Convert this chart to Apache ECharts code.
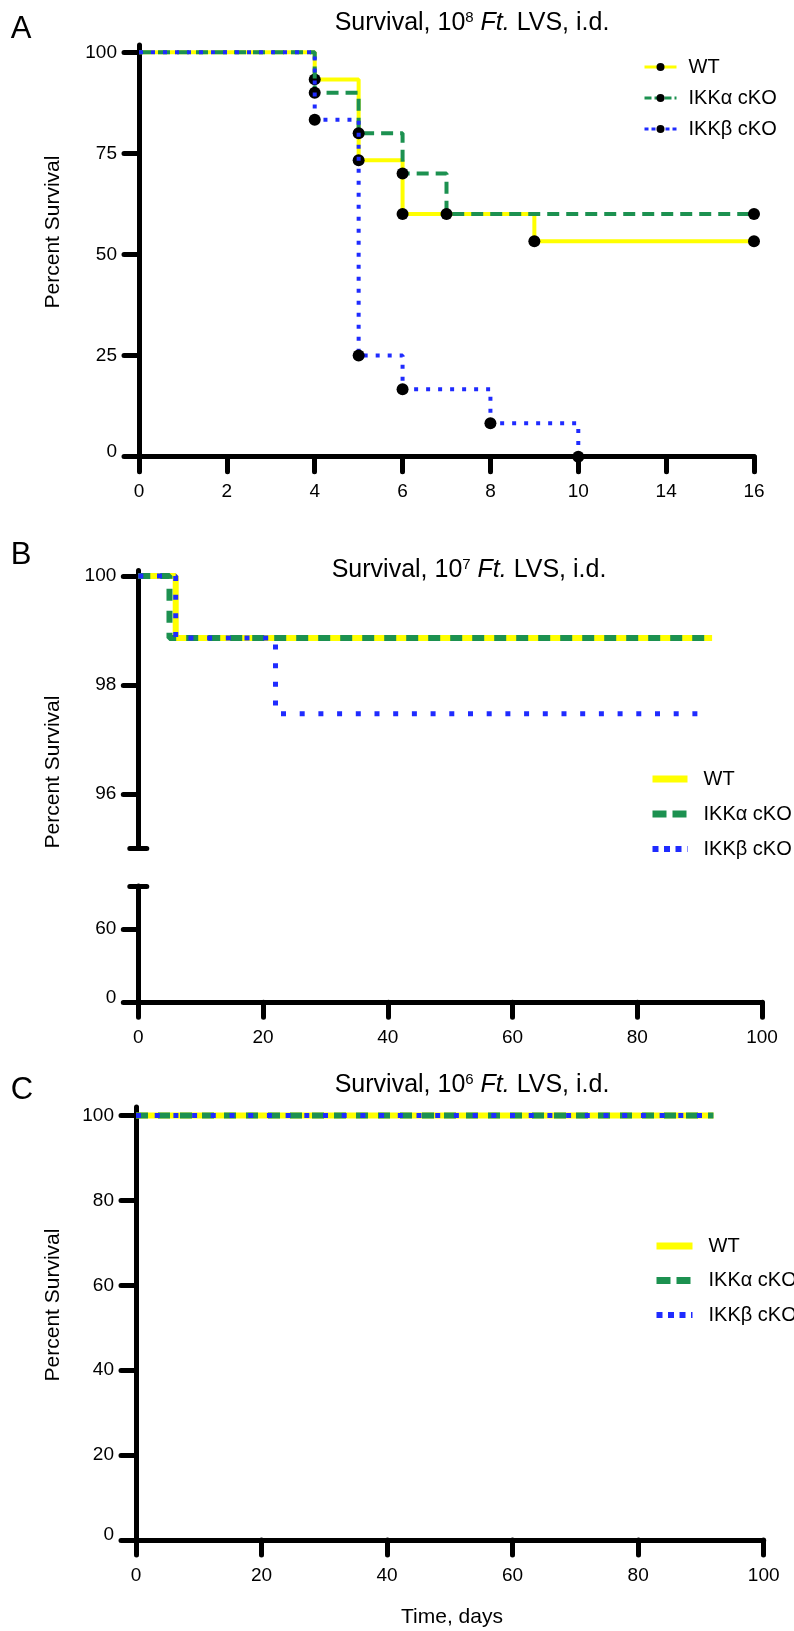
<!DOCTYPE html>
<html><head><meta charset="utf-8">
<script src="https://cdn.jsdelivr.net/npm/echarts@6/dist/echarts.min.js"></script>
<style>html,body{margin:0;padding:0;background:#fff}#c{width:794px;height:1631px}</style>
</head><body><div id="c"></div>
<script>
// ---------- Panel A: 10^8 Ft. LVS ----------
const A_TICK_DAYS   = [0, 2, 4, 6, 8, 10, 14, 16];
const A_TICK_LABELS = ['0', '2', '4', '6', '8', '10', '14', '16'];
const A_Y_TICKS     = [0, 25, 50, 75, 100];
const A_WT_DAYS  = [0, 4, 5, 6, 9, 16];
const A_WT_SURV  = [100, 93.3, 73.3, 60, 53.3, 53.3];
const A_IKKA_DAYS = [0, 4, 5, 6, 7, 16];
const A_IKKA_SURV = [100, 90, 80, 70, 60, 60];
const A_IKKB_DAYS = [0, 4, 5, 6, 8, 10];
const A_IKKB_SURV = [100, 83.3, 25, 16.7, 8.3, 0];
// ---------- Panel B: 10^7 Ft. LVS ----------
const B_X_TICKS = [0, 20, 40, 60, 80, 100];
const B_Y_TICKS_UPPER = [96, 98, 100];
const B_Y_TICKS_LOWER = [0, 60];
const B_WT_DAYS  = [0, 6, 92];
const B_WT_SURV  = [100, 98.86, 98.86];
const B_IKKA_DAYS = [0, 5, 92];
const B_IKKA_SURV = [100, 98.86, 98.86];
const B_IKKB_DAYS = [0, 6, 22, 91];
const B_IKKB_SURV = [100, 98.86, 97.47, 97.47];
// ---------- Panel C: 10^6 Ft. LVS ----------
const C_X_TICKS = [0, 20, 40, 60, 80, 100];
const C_Y_TICKS = [0, 20, 40, 60, 80, 100];
const C_WT_DAYS  = [0, 92];
const C_WT_SURV  = [100, 100];
const C_IKKA_DAYS = [0, 92];
const C_IKKA_SURV = [100, 100];
const C_IKKB_DAYS = [0, 92];
const C_IKKB_SURV = [100, 100];

const FONT = 'Liberation Sans, Arial, Helvetica, sans-serif';
const YELLOW = '#ffff00', GREEN = '#1c9150', BLUE = '#1f2bff';

// broken x-axis of panel A: ticks evenly spaced although labels jump 10 -> 14
function aPos(d) {
  for (let i = 1; i < A_TICK_DAYS.length; i++) {
    if (d <= A_TICK_DAYS[i]) {
      const d0 = A_TICK_DAYS[i - 1], d1 = A_TICK_DAYS[i];
      return 2 * (i - 1) + 2 * (d - d0) / (d1 - d0);
    }
  }
  return 2 * (A_TICK_DAYS.length - 1);
}

const axLine = {show: true, onZero: false, lineStyle: {color: '#000', width: 5, cap: 'round'}};
const axTick = (len) => ({show: true, length: len, lineStyle: {color: '#000', width: 5, cap: 'round'}});
const zeroRich = {z: {fontSize: 19, fontFamily: FONT, color: '#000', padding: [0, 0, 10, 0]}};
const yLab = (vals) => ({show: true, customValues: vals, margin: 22, fontSize: 19, fontFamily: FONT, color: '#000',
  formatter: v => (v === 0 ? '{z|0}' : String(v)), rich: zeroRich});
const xLab = (fmt) => ({show: true, margin: 26, fontSize: 19, fontFamily: FONT, color: '#000', formatter: fmt});

function kmA(name, days, surv, color, type, z) {
  return {
    type: 'line', name, xAxisIndex: 0, yAxisIndex: 0, step: 'end', clip: false, z,
    data: days.map((d, i) => ({value: [aPos(d), surv[i]], symbol: i === 0 ? 'none' : 'circle'})),
    symbol: 'circle', symbolSize: 12, showSymbol: true, showAllSymbol: true,
    itemStyle: {color: '#000'}, lineStyle: {color, type, width: 4},
    emphasis: {disabled: true}
  };
}
function km(name, xi, yi, days, surv, color, type, width, z) {
  return {
    type: 'line', name, xAxisIndex: xi, yAxisIndex: yi, step: 'end', clip: false, z,
    data: days.map((d, i) => [d, surv[i]]), symbol: 'none',
    itemStyle: {color: 'rgba(0,0,0,0)', opacity: 0},
    lineStyle: {color, type, width}, emphasis: {disabled: true}
  };
}

const legendText = {fontSize: 20, fontFamily: FONT, color: '#000', padding: [0, 0, 0, 7]};
const legendTextW = {fontSize: 20, fontFamily: FONT, color: '#000', padding: [0, 0, 0, 11]};
const noSym = {color: 'rgba(0,0,0,0)', borderWidth: 0, opacity: 0};

const title = (x, y, sup) => ({
  type: 'text', x, y,
  style: {
    text: '{n|Survival, 10}{s|' + sup + '}{i| Ft.}{n| LVS, i.d.}',
    align: 'center', verticalAlign: 'middle', fill: '#000',
    rich: {
      n: {fontSize: 25, fontFamily: FONT, fill: '#000'},
      s: {fontSize: 15, fontFamily: FONT, fill: '#000', verticalAlign: 'top'},
      i: {fontSize: 25, fontFamily: FONT, fontStyle: 'italic', fill: '#000'}
    }
  }
});
const letter = (x, y, t) => ({type: 'text', x, y, style: {text: t, fontSize: 31, fontFamily: FONT, fill: '#000', align: 'center', verticalAlign: 'middle'}});
const yName = (x, y) => ({type: 'text', x, y, rotation: Math.PI / 2,
  style: {text: 'Percent Survival', fontSize: 21, fontFamily: FONT, fill: '#000', align: 'center', verticalAlign: 'middle'}});

const option = {
  animation: false,
  backgroundColor: '#fff',
  grid: [
    {left: 139, top: 45, width: 615, height: 411.7},
    {left: 138.3, top: 570.5, width: 623.7, height: 277.8},
    {left: 138.3, top: 886, width: 623.7, height: 116.3},
    {left: 136, top: 1107, width: 627.7, height: 433}
  ],
  xAxis: [
    {type: 'value', gridIndex: 0, min: 0, max: 2 * (A_TICK_DAYS.length - 1), interval: 2,
      axisLine: axLine, axisTick: axTick(15), splitLine: {show: false},
      axisLabel: xLab(v => A_TICK_LABELS[Math.round(v / 2)])},
    {type: 'value', gridIndex: 1, min: B_X_TICKS[0], max: B_X_TICKS[B_X_TICKS.length - 1], show: false, splitLine: {show: false}},
    {type: 'value', gridIndex: 2, min: B_X_TICKS[0], max: B_X_TICKS[B_X_TICKS.length - 1], interval: 20,
      axisLine: axLine, axisTick: axTick(15), splitLine: {show: false}, axisLabel: xLab(v => String(v))},
    {type: 'value', gridIndex: 3, min: C_X_TICKS[0], max: C_X_TICKS[C_X_TICKS.length - 1], interval: 20,
      axisLine: axLine, axisTick: axTick(15), splitLine: {show: false}, axisLabel: xLab(v => String(v))}
  ],
  yAxis: [
    {type: 'value', gridIndex: 0, position: 'left', min: 0, max: 101.8,
      axisLine: axLine, axisTick: Object.assign(axTick(15), {customValues: A_Y_TICKS}),
      axisLabel: yLab(A_Y_TICKS), splitLine: {show: false}},
    {type: 'value', gridIndex: 1, position: 'left', min: 95, max: 100.1,
      axisLine: axLine, axisTick: Object.assign(axTick(15), {customValues: B_Y_TICKS_UPPER}),
      axisLabel: yLab(B_Y_TICKS_UPPER), splitLine: {show: false}},
    {type: 'value', gridIndex: 1, position: 'left', min: 95, max: 100.1, offset: -8.5,
      axisLine: {show: false}, axisLabel: {show: false}, splitLine: {show: false},
      axisTick: Object.assign(axTick(17), {customValues: [95]})},
    {type: 'value', gridIndex: 2, position: 'left', min: 0, max: 95,
      axisLine: axLine, axisTick: Object.assign(axTick(15), {customValues: B_Y_TICKS_LOWER}),
      axisLabel: yLab(B_Y_TICKS_LOWER), splitLine: {show: false}},
    {type: 'value', gridIndex: 2, position: 'left', min: 0, max: 95, offset: -8.5,
      axisLine: {show: false}, axisLabel: {show: false}, splitLine: {show: false},
      axisTick: Object.assign(axTick(17), {customValues: [95]})},
    {type: 'value', gridIndex: 3, position: 'left', min: 0, max: 102,
      axisLine: axLine, axisTick: Object.assign(axTick(15), {customValues: C_Y_TICKS}),
      axisLabel: yLab(C_Y_TICKS), splitLine: {show: false}}
  ],
  legend: [
    {orient: 'vertical', left: 638, top: 52, itemWidth: 32, itemHeight: 10, itemGap: 11, selectedMode: false,
      textStyle: legendText, formatter: n => n.split('|')[0],
      data: [{name: 'WT|A', lineStyle: {width: 3}},
             {name: 'IKKα cKO|A', lineStyle: {width: 3, type: [7, 3]}},
             {name: 'IKKβ cKO|A', lineStyle: {width: 3, type: [4, 3]}}]},
    {orient: 'vertical', left: 644, top: 764, itemWidth: 35, itemHeight: 10, itemGap: 15, selectedMode: false,
      textStyle: legendTextW, formatter: n => n.split('|')[0],
      data: [{name: 'WT|B', lineStyle: {width: 7}, itemStyle: noSym},
             {name: 'IKKα cKO|B', lineStyle: {width: 7, type: [14, 6]}, itemStyle: noSym},
             {name: 'IKKβ cKO|B', lineStyle: {width: 6, type: [6, 5.5]}, itemStyle: noSym}]},
    {orient: 'vertical', left: 648, top: 1231, itemWidth: 36, itemHeight: 10, itemGap: 14.5, selectedMode: false,
      textStyle: legendTextW, formatter: n => n.split('|')[0],
      data: [{name: 'WT|C', lineStyle: {width: 7}, itemStyle: noSym},
             {name: 'IKKα cKO|C', lineStyle: {width: 7, type: [14, 6]}, itemStyle: noSym},
             {name: 'IKKβ cKO|C', lineStyle: {width: 6, type: [6, 5.5]}, itemStyle: noSym}]}
  ],
  series: [
    kmA('WT|A', A_WT_DAYS, A_WT_SURV, YELLOW, 'solid', 2),
    kmA('IKKα cKO|A', A_IKKA_DAYS, A_IKKA_SURV, GREEN, [12, 7], 3),
    kmA('IKKβ cKO|A', A_IKKB_DAYS, A_IKKB_SURV, BLUE, [4, 8], 4),
    km('WT|B', 1, 1, B_WT_DAYS, B_WT_SURV, YELLOW, 'solid', 6, 2),
    km('IKKα cKO|B', 1, 1, B_IKKA_DAYS, B_IKKA_SURV, GREEN, [12, 10], 6, 3),
    km('IKKβ cKO|B', 1, 1, B_IKKB_DAYS, B_IKKB_SURV, BLUE, [5, 13.7], 5, 4),
    km('WT|C', 3, 5, C_WT_DAYS, C_WT_SURV, YELLOW, 'solid', 6, 2),
    km('IKKα cKO|C', 3, 5, C_IKKA_DAYS, C_IKKA_SURV, GREEN, [12, 10], 6, 3),
    km('IKKβ cKO|C', 3, 5, C_IKKB_DAYS, C_IKKB_SURV, BLUE, [5, 13.7], 5, 4)
  ],
  graphic: [
    letter(21, 29, 'A'), letter(21, 555, 'B'), letter(22, 1090, 'C'),
    title(472, 23, '8'), title(469, 570, '7'), title(472, 1085, '6'),
    yName(53, 232), yName(53, 772), yName(53, 1305),
    {type: 'text', x: 452, y: 1617, style: {text: 'Time, days', fontSize: 21, fontFamily: FONT, fill: '#000', align: 'center', verticalAlign: 'middle'}}
  ]
};

const chart = echarts.init(document.getElementById('c'), null, {renderer: 'canvas'});
chart.setOption(option);
</script>
</body></html>
